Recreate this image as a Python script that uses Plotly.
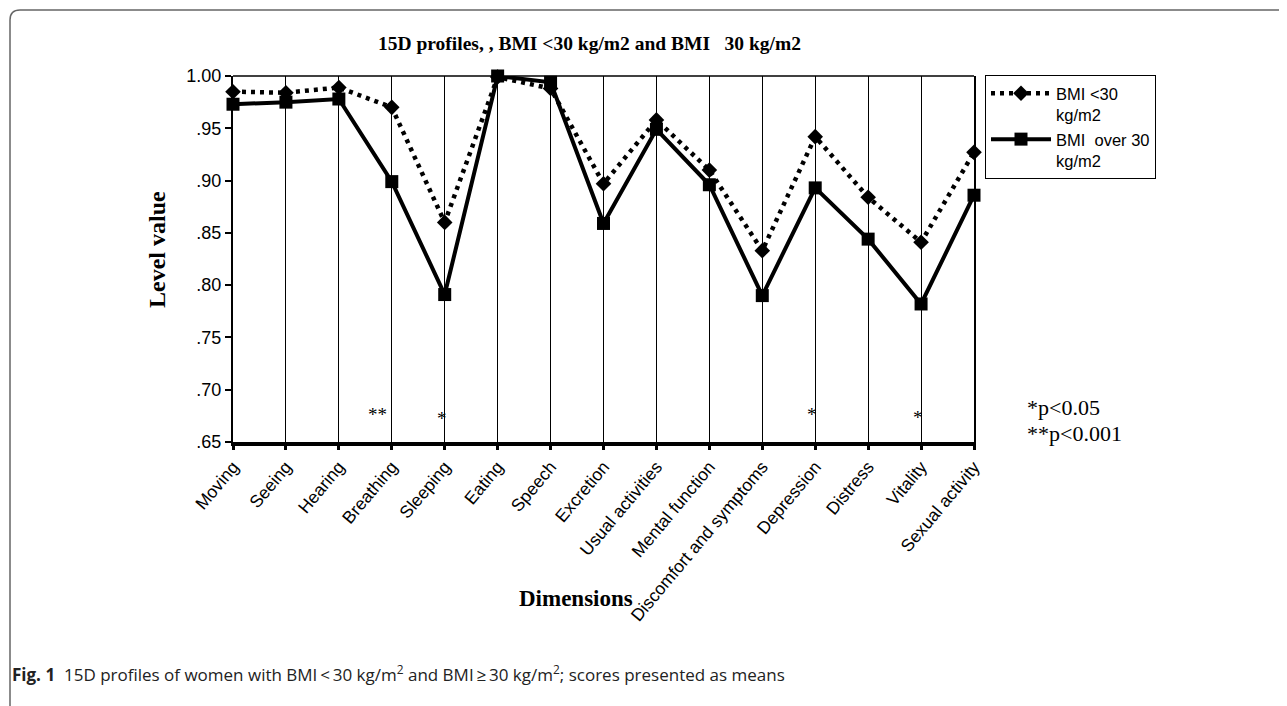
import plotly.graph_objects as go

# ---- data ----
dimensions = ["Moving", "Seeing", "Hearing", "Breathing", "Sleeping", "Eating", "Speech",
              "Excretion", "Usual activities", "Mental function", "Discomfort and symptoms",
              "Depression", "Distress", "Vitality", "Sexual activity"]
bmi_under30 = [0.985, 0.984, 0.989, 0.970, 0.860, 0.999, 0.988, 0.897, 0.958, 0.910,
               0.833, 0.942, 0.884, 0.841, 0.927]
bmi_over30 = [0.973, 0.975, 0.978, 0.899, 0.791, 1.000, 0.994, 0.859, 0.949, 0.896,
              0.790, 0.893, 0.844, 0.782, 0.886]
y_tickvals = [0.65, 0.70, 0.75, 0.80, 0.85, 0.90, 0.95, 1.00]
y_ticktext = [".65", ".70", ".75", ".80", ".85", ".90", ".95", "1.00"]
sig_dims = ["Breathing", "Sleeping", "Depression", "Vitality"]
sig_marks = ["**", "*", "*", "*"]

# ---- layout geometry (page has an 8px body margin) ----
OFF = 8
W, H = 1287 - OFF, 706 - OFF
L, T = 233 - OFF, 76 - OFF
R, B = W - (974 - OFF), H - (442 - OFF)
PW, PH = W - L - R, H - T - B


def px(x):
    return (x - OFF - L) / PW


def py(y):
    return (H - B - (y - OFF)) / PH


SERIF = "Liberation Serif, Times New Roman, serif"
SANS = "Liberation Sans, Arial, sans-serif"

fig = go.Figure()
fig.add_trace(go.Scatter(
    x=dimensions, y=bmi_under30, name="BMI <30<br>kg/m2", mode="lines+markers",
    line=dict(color="black", width=4.5, dash="4px,5px"),
    marker=dict(symbol="diamond", size=12, color="black"),
    cliponaxis=False))
fig.add_trace(go.Scatter(
    x=dimensions, y=bmi_over30, name="BMI  over 30<br>kg/m2", mode="lines+markers",
    line=dict(color="black", width=4),
    marker=dict(symbol="square", size=13, color="black"),
    cliponaxis=False))

shift = {"**": -14}
sig_y = [0.676, 0.672, 0.676, 0.673]
ann = []
for d, m, yy in zip(sig_dims, sig_marks, sig_y):
    ann.append(dict(x=d, y=yy, xref="x", yref="y", text=m, showarrow=False,
                    xanchor="center", yanchor="middle",
                    xshift=shift.get(m, -3), font=dict(family=SERIF, size=19, color="black")))


def note(x, y, text, size, family=SERIF, xanchor="center", angle=0, color="black"):
    return dict(x=px(x), y=py(y), xref="paper", yref="paper", text=text, showarrow=False,
                xanchor=xanchor, yanchor="middle", textangle=angle,
                font=dict(family=family, size=size, color=color))


ann += [
    note(589, 43, "<b>15D profiles, , BMI &lt;30 kg/m2 and BMI \u00a0\u00a030 kg/m2</b>", 19.5),
    note(157, 250, "<b>Level value</b>", 24, angle=-90),
    note(576, 598, "<b>Dimensions</b>", 23),
    note(1025, 407, "*p&lt;0.05", 22, xanchor="left"),
    note(1025, 433, "**p&lt;0.001", 22, xanchor="left"),
    note(10, 673,
         "<b>Fig. 1</b>\u00a0\u00a015D profiles of women with BMI\u2009&lt;\u200930 kg/m<sup>2</sup> "
         "and BMI\u2009\u2265\u200930 kg/m<sup>2</sup>; scores presented as means",
         17, family="Open Sans, Noto Sans, sans-serif", xanchor="left", color="#222"),
]

frame = (f"M {px(10)},{py(706)} L {px(10)},{py(20)} Q {px(10)},{py(10)} {px(20)},{py(10)} "
         f"L {px(1286)},{py(10)}")
shapes = [
    dict(type="path", xref="paper", yref="paper", path=frame,
         line=dict(color="#666666", width=1.5)),
    dict(type="line", xref="paper", yref="paper", x0=0, x1=1, y0=1, y1=1,
         line=dict(color="black", width=1.5)),
]

fig.update_layout(
    width=W, height=H, margin=dict(l=L, r=R, t=T, b=B),
    paper_bgcolor="white", plot_bgcolor="white",
    showlegend=True,
    legend=dict(x=px(985), y=py(75), xanchor="left", yanchor="top",
                bordercolor="black", borderwidth=1, bgcolor="white",
                font=dict(family=SANS, size=16.5, color="black"),
                tracegroupgap=2, itemwidth=60, valign="top"),
    xaxis=dict(type="category", range=[0, 14], showgrid=True, gridcolor="black", gridwidth=1,
               showline=True, linecolor="black", linewidth=3.5,
               ticks="outside", ticklen=4, tickwidth=3, tickcolor="black",
               tickangle=-50, tickfont=dict(family=SANS, size=17.5, color="black")),
    yaxis=dict(range=[0.65, 1.0], tickvals=y_tickvals, ticktext=y_ticktext,
               showgrid=False, zeroline=False, showline=True, linecolor="black", linewidth=2,
               mirror=True, ticks="outside", ticklen=6, tickwidth=1.5, tickcolor="black",
               tickfont=dict(family=SANS, size=18, color="black")),
    annotations=ann, shapes=shapes,
)

fig.write_html("out.html")
